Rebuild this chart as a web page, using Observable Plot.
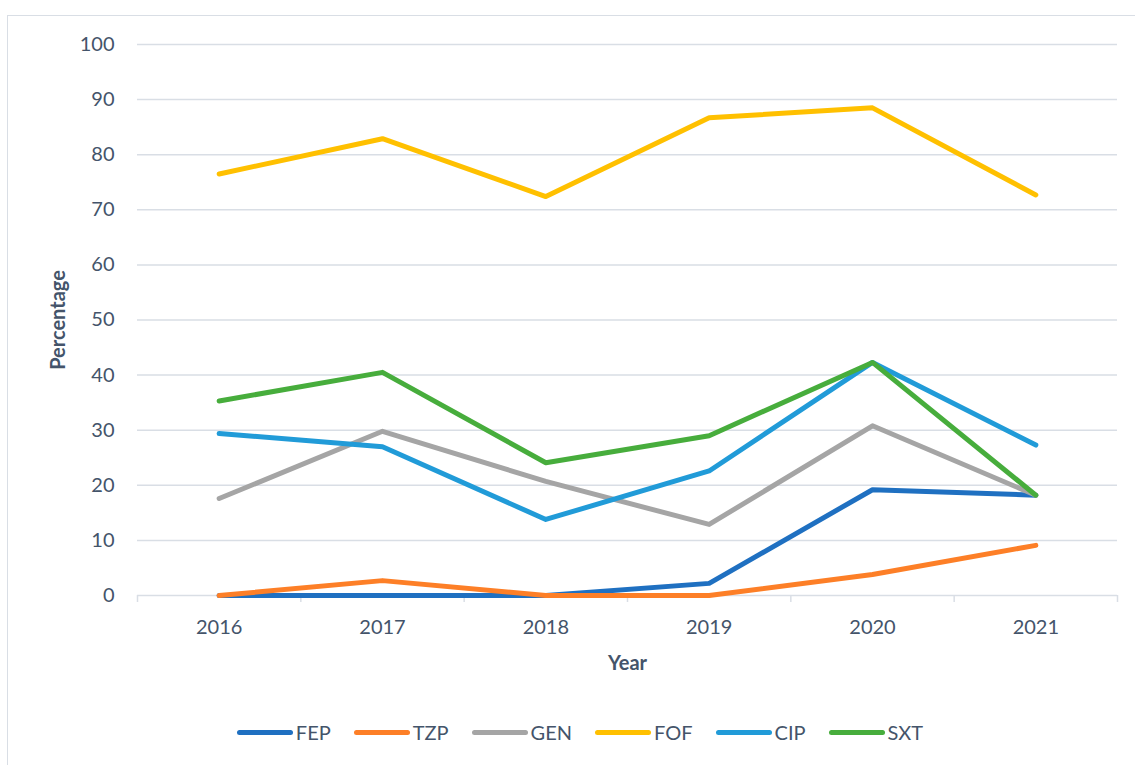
<!DOCTYPE html>
<html>
<head>
<meta charset="utf-8">
<script src="https://cdn.jsdelivr.net/npm/d3@7"></script>
<script src="https://cdn.jsdelivr.net/npm/@observablehq/plot@0.6"></script>
<style>
  html, body { margin: 0; padding: 0; background: #fff; }
  #wrap { position: relative; width: 1135px; height: 765px; overflow: hidden; font-family: Lato, "Open Sans", sans-serif; }
  #frame { position: absolute; left: 7px; top: 15px; width: 1200px; height: 800px; border-left: 1.5px solid #d9dee5; border-top: 1.5px solid #d9dee5; box-sizing: border-box; }
  #chart { position: absolute; left: 0; top: 0; }
  #legend { position: absolute; left: 0; width: 1160px; top: 720px; display: flex; justify-content: center; align-items: center; gap: 23px; font-size: 20px; color: #44546a; }
  .item { display: flex; align-items: center; }
  .sw { width: 56px; height: 5px; border-radius: 3px; margin-right: 3px; }
</style>
</head>
<body>
<div id="wrap">
  <div id="frame"></div>
  <div id="chart"></div>
  <div id="legend"></div>
</div>
<script>
const years = [2016, 2017, 2018, 2019, 2020, 2021];
const seriesNames = ["FEP", "TZP", "GEN", "FOF", "CIP", "SXT"];
const FEP = [0, 0, 0, 2.2, 19.2, 18.2];
const TZP = [0, 2.7, 0, 0, 3.8, 9.1];
const GEN = [17.6, 29.8, 20.7, 12.9, 30.8, 18.2];
const FOF = [76.5, 82.9, 72.4, 86.7, 88.5, 72.7];
const CIP = [29.4, 27.0, 13.8, 22.6, 42.3, 27.3];
const SXT = [35.3, 40.5, 24.1, 29.0, 42.3, 18.2];
const colors = ["#1f70c1", "#fd7f27", "#a5a5a5", "#ffc000", "#219bd8", "#47ad3c"];
const yTicks = [0, 10, 20, 30, 40, 50, 60, 70, 80, 90, 100];

const values = {FEP, TZP, GEN, FOF, CIP, SXT};
const rows = [];
seriesNames.forEach(s => years.forEach((y, i) => rows.push({series: s, year: y, value: values[s][i]})));
const boundaries = [years[0] - 0.5, ...years.map(y => y + 0.5)];

const textColor = "#44546a";
const gridColor = "#d9dee5";

const plot = Plot.plot({
  width: 1135,
  height: 690,
  marginLeft: 137,
  marginRight: 18,
  marginTop: 44,
  marginBottom: 95,
  style: {fontFamily: "Lato, 'Open Sans', sans-serif", fontSize: "20px", color: textColor, background: "transparent"},
  x: {domain: [years[0] - 0.5, years[years.length - 1] + 0.5]},
  y: {domain: [0, 100]},
  color: {domain: seriesNames, range: colors},
  marks: [
    Plot.gridY(yTicks, {stroke: gridColor, strokeOpacity: 1, strokeWidth: 1.5}),
    Plot.axisX({ticks: boundaries, tickSize: 7, tickFormat: () => "", stroke: gridColor, strokeWidth: 1.5, label: null}),
    Plot.axisX({ticks: years, tickSize: 0, tickPadding: 24, tickFormat: d => String(d), fill: textColor, fontSize: 20, label: null}),
    Plot.axisY({ticks: yTicks, tickSize: 0, tickPadding: 23, fill: textColor, fontSize: 20, label: null}),
    Plot.text(["Percentage"], {frameAnchor: "left", textAnchor: "middle", lineAnchor: "middle", rotate: -90, dx: -79, fontWeight: "bold", fontSize: 20, fill: textColor}),
    Plot.text(["Year"], {frameAnchor: "bottom", textAnchor: "middle", lineAnchor: "middle", dy: 68, fontWeight: "bold", fontSize: 20, fill: textColor}),
    Plot.line(rows, {x: "year", y: "value", z: "series", stroke: "series", strokeWidth: 5, strokeLinecap: "round", strokeLinejoin: "round"})
  ]
});
document.getElementById("chart").appendChild(plot);

const legend = document.getElementById("legend");
seriesNames.forEach((s, i) => {
  const item = document.createElement("div");
  item.className = "item";
  const sw = document.createElement("div");
  sw.className = "sw";
  sw.style.background = colors[i];
  const lab = document.createElement("span");
  lab.textContent = s;
  item.appendChild(sw);
  item.appendChild(lab);
  legend.appendChild(item);
});
</script>
</body>
</html>
